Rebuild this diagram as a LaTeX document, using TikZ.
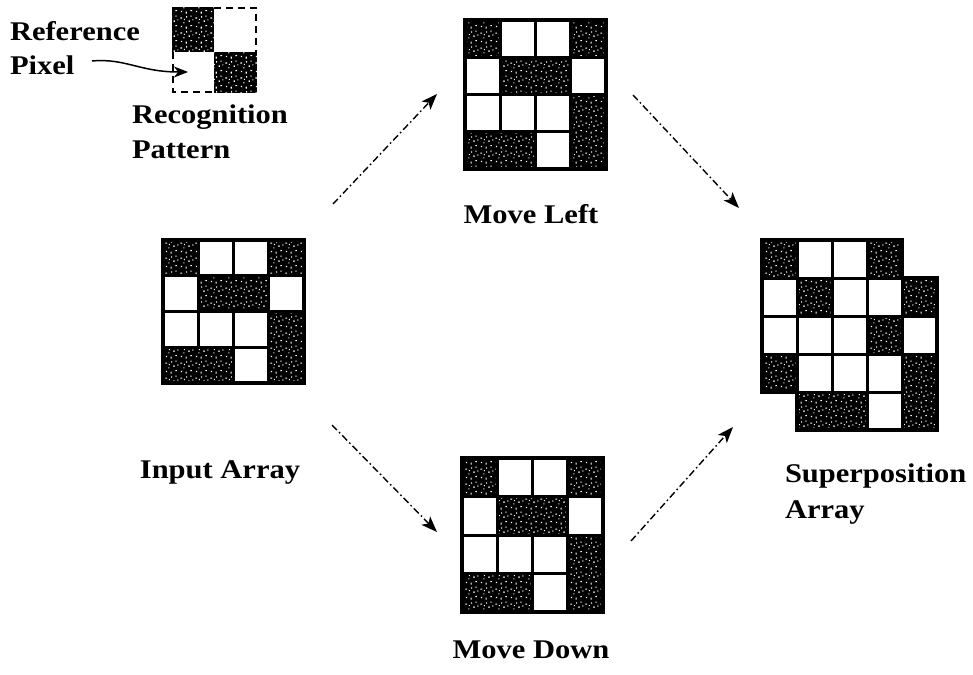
\documentclass[tikz,border=0pt]{standalone}
\usepackage{fontspec}
\setmainfont{Liberation Serif}
\usetikzlibrary{arrows.meta,patterns}

% stipple texture for the dark pixels
\pgfdeclarepatternformonly{speckle}{\pgfpointorigin}{\pgfpoint{15pt}{15pt}}{\pgfpoint{15pt}{15pt}}{%
  \pgfpathrectangle{\pgfpoint{1pt}{2pt}}{\pgfpoint{1.3pt}{1.3pt}}%
  \pgfpathrectangle{\pgfpoint{6pt}{0.5pt}}{\pgfpoint{1.1pt}{2pt}}%
  \pgfpathrectangle{\pgfpoint{11pt}{3pt}}{\pgfpoint{1.7pt}{1.1pt}}%
  \pgfpathrectangle{\pgfpoint{3.5pt}{6pt}}{\pgfpoint{1.1pt}{1.1pt}}%
  \pgfpathrectangle{\pgfpoint{9pt}{7.5pt}}{\pgfpoint{1.3pt}{1.6pt}}%
  \pgfpathrectangle{\pgfpoint{13pt}{9pt}}{\pgfpoint{1.1pt}{1.1pt}}%
  \pgfpathrectangle{\pgfpoint{0.5pt}{11pt}}{\pgfpoint{1.8pt}{1.1pt}}%
  \pgfpathrectangle{\pgfpoint{6.5pt}{12pt}}{\pgfpoint{1.1pt}{1.4pt}}%
  \pgfpathrectangle{\pgfpoint{11pt}{13pt}}{\pgfpoint{1.3pt}{1.1pt}}%
  \pgfpathrectangle{\pgfpoint{4pt}{9.5pt}}{\pgfpoint{1.1pt}{1.1pt}}%
  \pgfusepath{fill}}

\tikzset{
  darkfill/.style={fill=black, postaction={pattern=speckle, pattern color=white}},
  whitecell/.style={fill=white, draw=black, line width=3pt},
  gridedge/.style={draw=black, line width=3.4pt},
  lbl/.style={font=\fontsize{27}{31}\selectfont\bfseries, inner sep=0, outer sep=0},
  flowline/.style={line width=1.4pt, dash pattern=on 7pt off 3pt on 1.6pt off 3pt,
                   -{Stealth[length=16pt, width=12pt, inset=4pt]}},
  pointer/.style={line width=1.5pt, -{Stealth[length=14pt, width=11pt, inset=4pt]}},
  patedge/.style={line width=2.6pt, dash pattern=on 7pt off 5pt}
}

% 4x4 binary array: dark background, white cells listed as col/row
\newcommand{\pixgrid}[6]{%
  \begin{scope}[shift={(#1,#2)}]
    \node[inner sep=0, outer sep=0, minimum width=4*#3pt, minimum height=4*#4pt,
          darkfill, anchor=north west] (#6) at (0,0) {};
    \foreach \c/\r in {#5}
      \filldraw[whitecell] (\c*#3,\r*#4) rectangle ++(#3,#4);
    \draw[gridedge] (#6.north west) rectangle (#6.south east);
  \end{scope}}

\begin{document}
\begin{tikzpicture}[x=1pt, y=-1pt]
  \useasboundingbox[fill=white] (0,0) rectangle (973,674);

  % recognition pattern (2x2, reference pixel bottom-left)
  \path[darkfill] (172,7) rectangle (214,52);
  \path[darkfill] (214,52) rectangle (257,93);
  \draw[patedge] (214,8) -- (256,8) -- (256,52);
  \draw[patedge] (173,52) -- (173,92) -- (214,92);
  \coordinate (refpix) at (188,72);

  \node[lbl, anchor=base west] (lref) at (10,41) {\scalebox{1.13}[1]{Reference}};
  \node[lbl, anchor=base west] (lpix) at (10,75) {\scalebox{1.13}[1]{Pixel}};
  \node[lbl, anchor=base west] (lrec) at (132,124) {\scalebox{1.13}[1]{Recognition}};
  \node[lbl, anchor=base west] (lpat) at (132,158) {\scalebox{1.13}[1]{Pattern}};
  \coordinate (pixtail) at (92,61);
  \draw[pointer] (pixtail) .. controls (125,58) and (140,72) .. (refpix);

  % the three 4x4 arrays
  \pixgrid{163}{240}{35.25}{35.75}{1/0,2/0,0/1,3/1,0/2,1/2,2/2,2/3}{input}
  \pixgrid{465}{20}{35.25}{37.25}{1/0,2/0,0/1,3/1,0/2,1/2,2/2,2/3}{left}
  \pixgrid{462}{458}{35.25}{38.5}{1/0,2/0,0/1,3/1,0/2,1/2,2/2,2/3}{down}

  % superposition of the two shifted arrays
  \begin{scope}[shift={(762,240)}]
    \def\cw{35}\def\ch{38}
    \def\supoutline{(0,0) -- (4*\cw,0) -- (4*\cw,\ch) -- (5*\cw,\ch) -- (5*\cw,5*\ch)
      -- (\cw,5*\ch) -- (\cw,4*\ch) -- (0,4*\ch) -- cycle}
    \path[darkfill] \supoutline;
    \foreach \c/\r in {1/0,2/0,0/1,2/1,3/1,0/2,1/2,2/2,4/2,1/3,2/3,3/3,3/4}
      \filldraw[whitecell] (\c*\cw,\r*\ch) rectangle ++(\cw,\ch);
    \draw[gridedge] \supoutline;
    \coordinate (super) at (2.5*\cw,2.5*\ch);
  \end{scope}

  % labels
  \node[lbl, anchor=base] (linput) at (220,478) {\scalebox{1.13}[1]{Input Array}};
  \node[lbl, anchor=base] (lleft)  at (531,223) {\scalebox{1.13}[1]{Move Left}};
  \node[lbl, anchor=base] (ldown)  at (531,658) {\scalebox{1.13}[1]{Move Down}};
  \node[lbl, anchor=base west] (lsup) at (785,482) {\scalebox{1.13}[1]{Superposition}};
  \node[lbl, anchor=base west] (larr) at (785,518) {\scalebox{1.13}[1]{Array}};

  % flow connectors
  \coordinate (a1) at (333,204);  \coordinate (a2) at (437,94);
  \coordinate (b1) at (633,95);   \coordinate (b2) at (739,208);
  \coordinate (c1) at (332,425);  \coordinate (c2) at (437,532);
  \coordinate (d1) at (631,541);  \coordinate (d2) at (733,427);
  \draw[flowline] (a1) -- (a2);
  \draw[flowline] (b1) -- (b2);
  \draw[flowline] (c1) -- (c2);
  \draw[flowline] (d1) -- (d2);
\end{tikzpicture}
\end{document}
